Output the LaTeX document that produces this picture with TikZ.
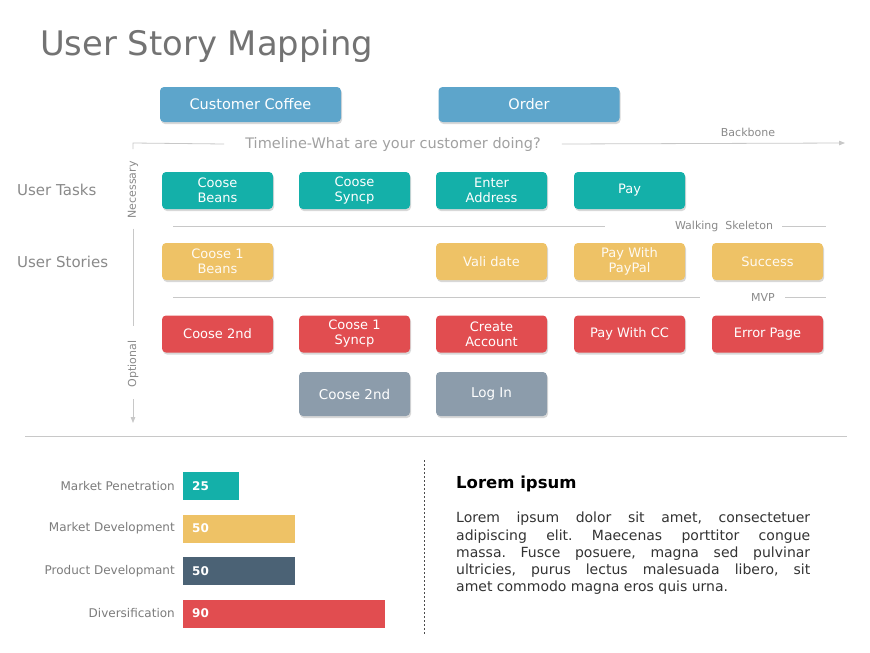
\documentclass[tikz,border=0pt]{standalone}
\usepackage{fontspec}
\setmainfont{DejaVu Sans}
\usetikzlibrary{arrows.meta,shadows}

\definecolor{cBlue}{HTML}{5DA5CB}
\definecolor{cTeal}{HTML}{14B0A9}
\definecolor{cYellow}{HTML}{EEC266}
\definecolor{cRed}{HTML}{E14D50}
\definecolor{cGray}{HTML}{8C9CAB}
\definecolor{cSlate}{HTML}{4B6275}
\definecolor{cLine}{HTML}{C8C8C8}
\definecolor{cLabel}{HTML}{8A8A8A}

\tikzset{
  card/.style={rounded corners=4pt, text=white, align=center, inner sep=0pt,
    minimum width=111pt, minimum height=37pt,
    font=\fontsize{13}{15}\selectfont,
    drop shadow={shadow xshift=1pt, shadow yshift=-2pt, opacity=0.3}},
  headcard/.style={card, fill=cBlue, minimum width=181pt, minimum height=35pt,
    font=\fontsize{14.5}{16}\selectfont},
  taskcard/.style={card, fill=cTeal},
  storycard/.style={card, fill=cYellow, text=white!92!cYellow},
  redcard/.style={card, fill=cRed},
  optcard/.style={card, fill=cGray, minimum height=44pt, font=\fontsize{13.5}{15}\selectfont},
  rail/.style={draw=cLine, line width=0.8pt},
  railtext/.style={text=cLabel, font=\fontsize{11}{12}\selectfont, inner sep=0pt},
  rowlabel/.style={text=cLabel, font=\fontsize{15}{16}\selectfont, anchor=west, inner sep=0pt},
  bar/.style={anchor=west, minimum height=28pt, inner sep=0pt},
  barval/.style={text=white, font=\bfseries\fontsize{12}{13}\selectfont, anchor=west, inner sep=0pt},
  barlabel/.style={text=cLabel!90!black, font=\fontsize{12}{13}\selectfont, anchor=east, inner sep=0pt}
}

\begin{document}
\frenchspacing
\begin{tikzpicture}[x=1pt, y=-1pt]
\useasboundingbox[fill=white] (0,0) rectangle (870,653);

% title
\node[anchor=west, inner sep=0pt, text=black!55, font=\fontsize{33.8}{36}\selectfont] (title) at (40,46) {User Story Mapping};

% backbone
\node[headcard] (coffee) at (250.5,104.5) {Customer Coffee};
\node[headcard] (order) at (529,104.5) {Order};

\node[railtext, font=\fontsize{14.5}{16}\selectfont, text=cLabel!80] (timeline) at (393,144) {Timeline-What are your customer doing?};
\node[railtext] (backbone) at (748,132) {Backbone};
\coordinate (tlA) at (133,143);
\coordinate (tlB) at (845,143);
\draw[rail] ([yshift=-6pt]tlA) -- (tlA) -- ([xshift=-21pt]timeline.west);
\draw[rail, -{Triangle[length=6pt,width=4.5pt]}] ([xshift=21pt]timeline.east) -- (tlB);

% left side
\node[rowlabel] (tasks) at (17,190) {User Tasks};
\node[rowlabel] (stories) at (17,262) {User Stories};

\node[railtext, rotate=90] (necessary) at (133,190) {Necessary};
\node[railtext, rotate=90] (optional) at (133,364) {Optional};
\coordinate (axEnd) at (133,423);
\draw[rail] ([yshift=-10pt]necessary.west) -- ([yshift=15pt]optional.east);
\draw[rail, -{Triangle[length=6pt,width=4.5pt]}] ([yshift=-12pt]optional.west) -- (axEnd);

% tasks
\node[taskcard] (t1) at (217.5,190.5) {Coose\\Beans};
\node[taskcard] (t2) at (354.5,190.5) {Coose\\Syncp};
\node[taskcard] (t3) at (491.5,190.5) {Enter\\Address};
\node[taskcard] (t4) at (629.5,190.5) {Pay};

% walking skeleton
\node[railtext] (skeleton) at (724,226) {Walking\ \ Skeleton};
\coordinate (wsA) at (173,226);
\coordinate (wsB) at (605,226);
\coordinate (wsC) at (826,226);
\draw[rail] (wsA) -- (wsB);
\draw[rail] ([xshift=9pt]skeleton.east) -- (wsC);

% stories
\node[storycard] (s1) at (217.5,261.5) {Coose 1\\Beans};
\node[storycard] (s3) at (491.5,261.5) {Vali date};
\node[storycard] (s4) at (629.5,261.5) {Pay With\\PayPal};
\node[storycard] (s5) at (767.5,261.5) {Success};

% mvp
\node[railtext] (mvp) at (763,297) {MVP};
\coordinate (mvA) at (173,297);
\coordinate (mvB) at (700,297);
\coordinate (mvC) at (826,297);
\draw[rail] (mvA) -- (mvB);
\draw[rail] ([xshift=10pt]mvp.east) -- (mvC);

\node[redcard] (r1) at (217.5,334) {Coose 2nd};
\node[redcard] (r2) at (354.5,334) {Coose 1\\Syncp};
\node[redcard] (r3) at (491.5,334) {Create\\Account};
\node[redcard] (r4) at (629.5,334) {Pay With CC};
\node[redcard] (r5) at (767.5,334) {Error Page};

\node[optcard] (o2) at (354.5,394) {Coose 2nd};
\node[optcard] (o3) at (491.5,394) {Log In};

% separator
\coordinate (sepA) at (25,436);
\coordinate (sepB) at (847,436);
\draw[rail] (sepA) -- (sepB);

% bar chart
\foreach \val/\col/\y/\lbl [count=\i] in {25/cTeal/486/Market Penetration,
    50/cYellow/528.5/Market Development, 50/cSlate/571/Product Developmant,
    90/cRed/613.5/Diversification}{
  \node[bar, fill=\col, minimum width=2.24*\val pt] (bar\i) at (183,\y) {};
  \node[barval] (val\i) at ([xshift=9pt]bar\i.west) {\val};
  \node[barlabel] (lbl\i) at ([xshift=-8pt]bar\i.west) {\lbl};
}

\coordinate (dashA) at (424,460);
\coordinate (dashB) at (424,634);
\draw[black!70, dash pattern=on 2pt off 2pt, line width=0.7pt] (dashA) -- (dashB);

% text block
\node[anchor=west, inner sep=0pt, font=\bfseries\fontsize{16.5}{18}\selectfont] (loremhead) at (456,484) {Lorem ipsum};
\node[anchor=north west, inner sep=0pt, text width=354pt, align=justify, text=black!80,
  font=\fontsize{14}{17.2}\selectfont] (lorem) at (456,512)
  {Lorem ipsum dolor sit amet, consectetuer\linebreak adipiscing elit. Maecenas porttitor congue\linebreak massa. Fusce posuere, magna sed pulvinar\linebreak ultricies, purus lectus malesuada libero, sit\linebreak amet commodo magna eros quis urna.};

\end{tikzpicture}
\end{document}
